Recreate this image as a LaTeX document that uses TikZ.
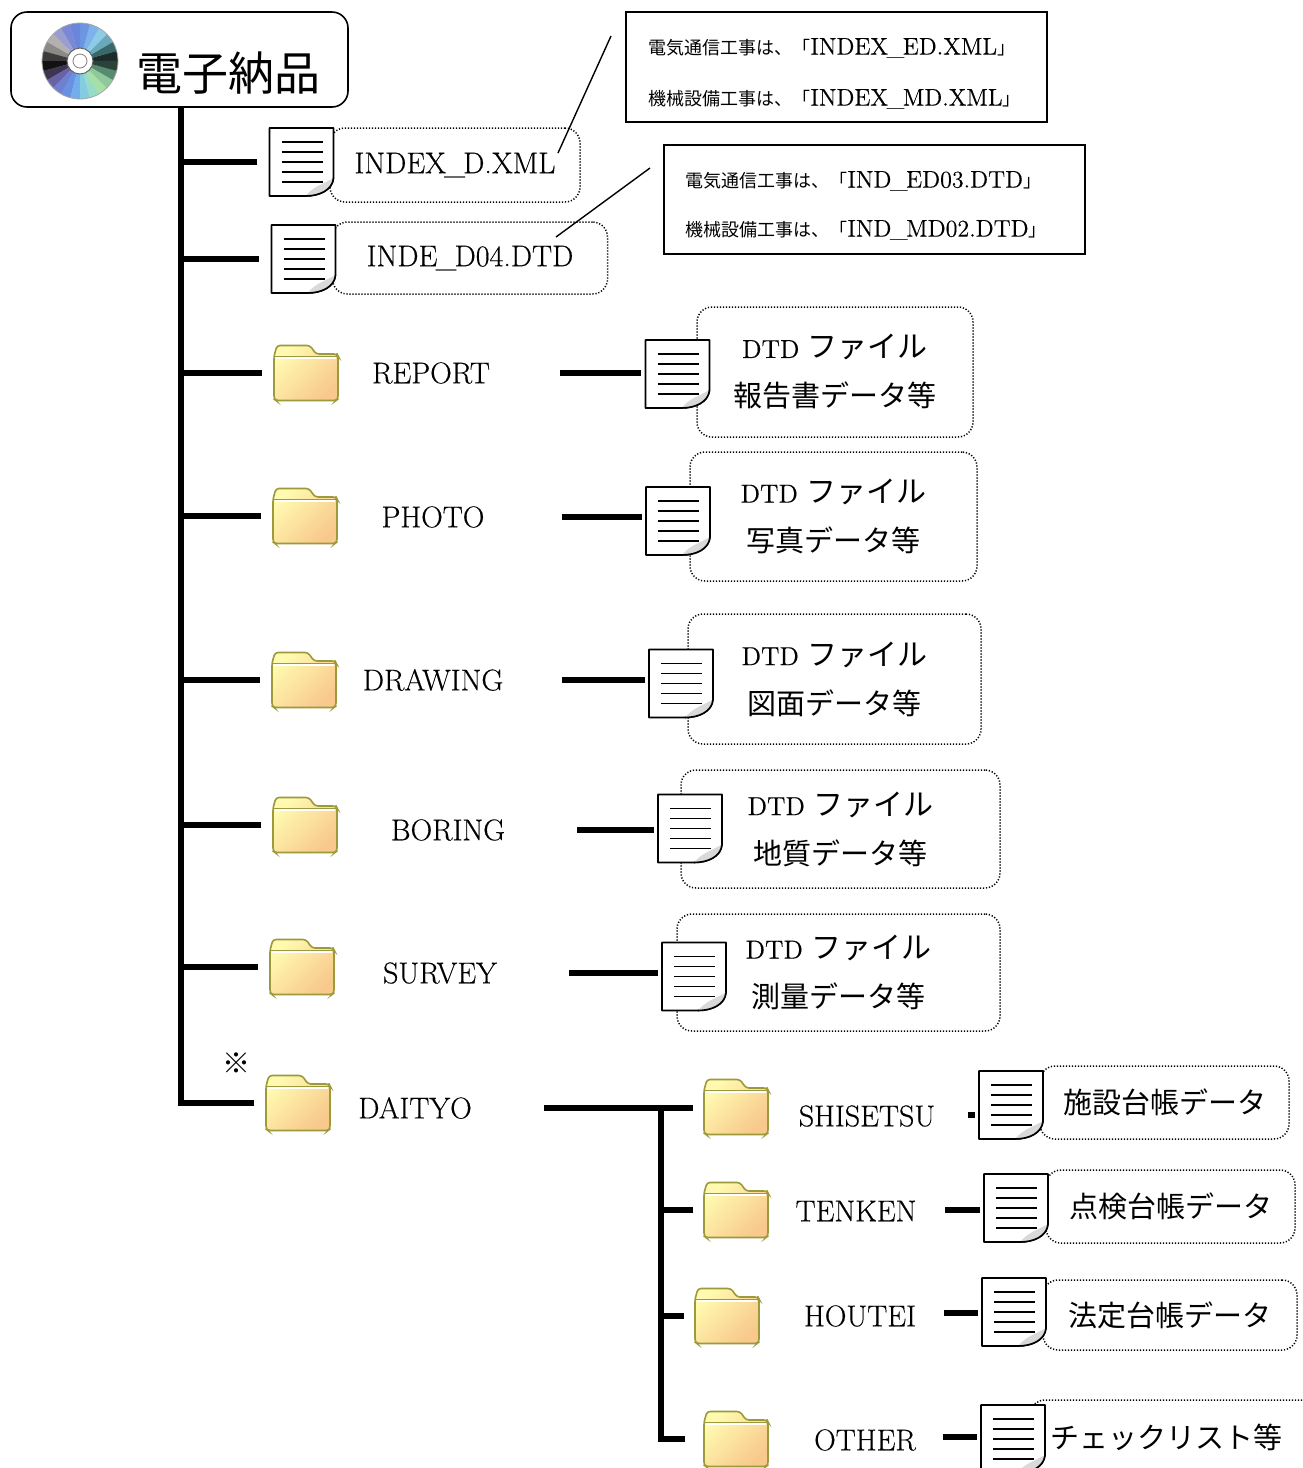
\documentclass[tikz,border=0pt]{standalone}
\usepackage{fontspec}
\setmainfont{Latin Modern Roman}[FakeBold=0.35]
\newfontfamily\jp{Noto Sans CJK JP}
\newcommand\JPt[2]{{\jp\fontsize{#1}{#1}\selectfont #2}}
\newcommand\us{\kern-0.06em\_\kern-0.06em}
\definecolor{foldA}{HTML}{FFFAB0}
\definecolor{foldB}{HTML}{F8C88C}
\definecolor{foldE}{HTML}{9C9A3A}
\tikzset{
  trunk/.style={line width=3pt},
  subln/.style={line width=2.6pt},
  thinln/.style={line width=0.7pt},
  dotbox/.style={draw, dash pattern=on 0.6pt off 0.9pt, line width=0.75pt, rounded corners=7.5pt, align=center, inner sep=0pt},
  callbox/.style={draw, line width=0.8pt, inner sep=0pt},
  lbl/.style={minimum width=129pt, inner sep=0pt, font=\fontsize{15}{18}\selectfont},
  slbl/.style={inner sep=0pt, font=\fontsize{15}{18}\selectfont},
  dtdtxt/.style={font=\fontsize{13}{24.5}\selectfont},
  iconbox/.style={inner sep=0pt, minimum width=32pt, minimum height=34pt},
  foldbox/.style={inner sep=0pt, minimum width=32pt, minimum height=27.5pt},
  docpic/.pic={
    \filldraw[fill=white, line width=0.8pt, line join=round]
      (-32,-34) -- (32,-34) -- (32,16) .. controls (31,28) and (18,34) .. (4,34) -- (-32,34) -- cycle;
    \fill[gray!30] (32,16) .. controls (24,21) and (12,24) .. (4,34) .. controls (18,34) and (31,28) .. (32,16);
    \draw[line width=0.8pt] (32,16) .. controls (31,28) and (18,34) .. (4,34);
    \foreach \yy in {-20,-10,0,10,20} \draw[line width=0.7pt] (-20,\yy) -- (21,\yy);
  },
  folderpic/.pic={
    \shadedraw[top color=foldA, bottom color=foldB, shading angle=45, draw=foldE, line width=0.8pt, rounded corners=1.5pt]
      (-32,-17) -- (-29,-27.5) -- (4,-27.5) -- (10,-19) -- (31,-19) -- (32,-17) -- (32,26) -- (30,27.5) -- (-30,27.5) -- (-32,26) -- cycle;
    \draw[foldE, line width=0.5pt] (-31,-17) -- (31,-17);
    \draw[white, line width=0.6pt] (-30,-15) -- (30,-15);
  }
}
\begin{document}
\begin{tikzpicture}[x=0.5pt,y=-0.5pt]
\useasboundingbox (0,0) rectangle (1302,1468);
\clip (0,0) rectangle (1302,1468);

% root
\node[draw, line width=0.8pt, rounded corners=8pt, minimum width=168.5pt, minimum height=47.5pt, inner sep=0pt] (root) at (179.5,59.5) {};
\node (roottxt) at (228,73) {\JPt{23}{電子納品}};
\begin{scope}[shift={(80,61)}, yscale=-1]
  \foreach \a/\c in {0/1C2C2A,15/3A6868,30/6AA8BC,45/8CCCE6,60/7EB2EA,75/6C96E2,90/6A86DA,105/7A88D6,120/9A9ECE,135/B4B0B0,150/8C8A86,165/3E3C3A,180/121212,195/3C3650,210/6A62A6,225/6E80D2,240/6A90E2,255/72AEEA,270/84CCE2,285/96DCC6,300/A6E0A6,315/90C89E,330/588A70,345/2A4238}{
    \definecolor{cdc}{HTML}{\c}
    \fill[cdc] (0,0) -- (\a:38) arc[start angle=\a, end angle=\a+15.5, radius=38] -- cycle;
  }
  \draw[gray!70, line width=0.4pt] (0,0) circle[radius=38];
  \fill[white] (0,0) circle[radius=13];
  \draw[gray!80!black, line width=0.5pt] (0,0) circle[radius=13];
  \draw[gray, line width=0.4pt] (0,0) circle[radius=7];
\end{scope}

% dotted boxes with texts
\node[dotbox, minimum width=125pt, minimum height=37pt, font=\fontsize{15}{18}\selectfont] (bx1) at (455,165) {INDEX\us D.XML};
\node[dotbox, minimum width=137.5pt, minimum height=36pt, font=\fontsize{15}{18}\selectfont] (bx2) at (470,258) {INDE\us D04.DTD};
\node[dotbox, dtdtxt, minimum width=138pt, minimum height=65pt] (bx3) at (835,372) {DTD \JPt{15}{ファイル}\\\JPt{14.5}{報告書データ等}};
\node[dotbox, dtdtxt, minimum width=143.5pt, minimum height=64.5pt] (bx4) at (833.5,516.5) {DTD \JPt{15}{ファイル}\\\JPt{14.5}{写真データ等}};
\node[dotbox, dtdtxt, minimum width=146.5pt, minimum height=65pt] (bx5) at (834.5,679) {DTD \JPt{15}{ファイル}\\\JPt{14.5}{図面データ等}};
\node[dotbox, dtdtxt, minimum width=159.5pt, minimum height=59pt] (bx6) at (840.5,829) {DTD \JPt{15}{ファイル}\\\JPt{14.5}{地質データ等}};
\node[dotbox, dtdtxt, minimum width=161.5pt, minimum height=58.5pt] (bx7) at (838.5,972.5) {DTD \JPt{15}{ファイル}\\\JPt{14.5}{測量データ等}};
\node[dotbox, minimum width=124.5pt, minimum height=36.5pt] (bx9) at (1164.5,1102.5) {\JPt{14.5}{施設台帳データ}};
\node[dotbox, minimum width=124.5pt, minimum height=36.5pt] (bx10) at (1170.5,1206.5) {\JPt{14.5}{点検台帳データ}};
\node[dotbox, minimum width=127pt, minimum height=35pt] (bx11) at (1170,1315) {\JPt{14.5}{法定台帳データ}};
\node[dotbox, minimum width=160pt, minimum height=60pt] (bx12) at (1190,1460) {};
\node[inner sep=0pt] (t12) at (1166,1437) {\JPt{14.5}{チェックリスト等}};

% callouts
\node[callbox, minimum width=210.5pt, minimum height=55pt] (c1) at (836.5,67) {};
\node[anchor=west, align=left, inner sep=0pt, font=\fontsize{12}{25.5}\selectfont] (c1t) at (648,73.5)
  {\JPt{9}{電気通信工事は、「}INDEX\us ED.XML\JPt{9}{」}\\\JPt{9}{機械設備工事は、「}INDEX\us MD.XML\JPt{9}{」}};
\node[callbox, minimum width=210.5pt, minimum height=54.5pt] (c2) at (874.5,199.5) {};
\node[anchor=west, align=left, inner sep=0pt, font=\fontsize{12}{24.5}\selectfont] (c2t) at (685,205.5)
  {\JPt{9}{電気通信工事は、「}IND\us ED03.DTD\JPt{9}{」}\\\JPt{9}{機械設備工事は、「}IND\us MD02.DTD\JPt{9}{」}};
\coordinate (p1) at (558,153);
\coordinate (q1) at (611,36);
\coordinate (p2) at (556,237);
\coordinate (q2) at (650,168);
\draw[thinln] (p1) -- (q1);
\draw[thinln] (p2) -- (q2);

% icon nodes
\node[iconbox] (d1) at (301.5,162) {};
\node[iconbox] (d2) at (303.5,259) {};
\node[foldbox] (f3) at (306,373) {};
\node[foldbox] (f4) at (305,516) {};
\node[foldbox] (f5) at (304,680) {};
\node[foldbox] (f6) at (305,825) {};
\node[foldbox] (f7) at (302,967) {};
\node[foldbox] (f8) at (298,1103) {};
\node[iconbox] (d3) at (677.5,374) {};
\node[iconbox] (d4) at (678,521) {};
\node[iconbox] (d5) at (681,683.5) {};
\node[iconbox] (d6) at (690,828.5) {};
\node[iconbox] (d7) at (694,976.5) {};
\node[foldbox] (sf1) at (736,1107) {};
\node[foldbox] (sf2) at (736,1210) {};
\node[foldbox] (sf3) at (727,1316) {};
\node[foldbox] (sf4) at (736,1439) {};
\node[iconbox] (d9) at (1011,1105) {};
\node[iconbox] (d10) at (1016,1208) {};
\node[iconbox] (d11) at (1014,1312) {};
\node[iconbox] (d12) at (1013,1439) {};

% labels
\node[lbl] (l3) at (431,373) {REPORT};
\node[lbl] (l4) at (433,517) {PHOTO};
\node[lbl] (l5) at (433,680) {DRAWING};
\node[lbl] (l6) at (448,830) {BORING};
\node[lbl] (l7) at (440,973) {SURVEY};
\node[lbl] (l8) at (415,1108) {DAITYO};
\node[inner sep=0pt] (mark) at (236,1063) {\JPt{14}{※}};
\node[slbl] (l9) at (867,1116) {SHISETSU};
\node[slbl] (l10) at (856,1211) {TENKEN};
\node[slbl] (l11) at (860,1316) {HOUTEI};
\node[slbl] (l12) at (865,1440) {OTHER};

% trunk
\coordinate (T) at ([xshift=0.75pt]root.south);
\draw[trunk] (T) |- ([xshift=-6pt]f8.west);
\foreach \n in {d1,d2,f3,f4,f5,f6,f7}
  \draw[trunk] (T |- \n.west) -- ([xshift=-6pt]\n.west);
\foreach \n/\d in {l3/d3,l4/d4,l5/d5,l6/d6,l7/d7}
  \draw[subln, shorten >=2pt] (\n.east) -- (\n.east -| \d.west);

% DAITYO sub tree
\coordinate (J) at (661,1108);
\draw[trunk] (l8.east) -- (l8.east -| sf1.west) [shorten >=5.5pt];
\draw[trunk] (J) |- ([xshift=-9.5pt]sf4.west);
\draw[trunk] (J |- sf2.west) -- ([xshift=-5.5pt]sf2.west);
\draw[trunk] (J |- sf3.west) -- ([xshift=-5.5pt]sf3.west);
\coordinate (s9) at (968,1115);
\coordinate (s10) at (945,1210);
\coordinate (s11) at (944,1313);
\coordinate (s12) at (943,1437);
\foreach \s/\d in {s9/d9,s10/d10,s11/d11,s12/d12}
  \draw[subln, shorten >=2pt] (\s) -- (\s -| \d.west);

% icons
\foreach \n in {d1,d2,d3,d4,d5,d6,d7,d9,d10,d11,d12}
  \pic at (\n) {docpic};
\foreach \n in {f3,f4,f5,f6,f7,f8,sf1,sf2,sf3,sf4}
  \pic at (\n) {folderpic};
\end{tikzpicture}
\end{document}
